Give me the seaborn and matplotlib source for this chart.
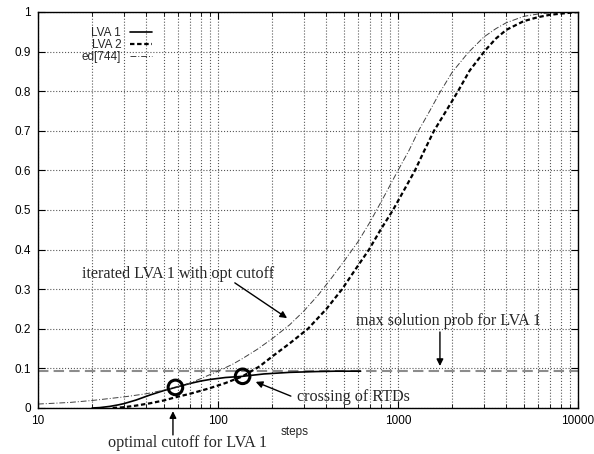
import matplotlib
matplotlib.use("Agg")
import matplotlib.pyplot as plt
import numpy as np
import pandas as pd
import seaborn as sns

# Run-time distributions (probability of having found a solution vs. steps)
lva1_steps = [20, 22, 25, 28, 30, 35, 42, 50, 58, 70, 80, 90, 110, 137, 180,
              250, 350, 450, 620]
lva1_prob = [0.0, 0.001, 0.004, 0.008, 0.011, 0.020, 0.033, 0.044, 0.052,
             0.062, 0.068, 0.072, 0.077, 0.080, 0.086, 0.090, 0.092, 0.093,
             0.093]

lva2_steps = [26, 30, 35, 42, 50, 58, 70, 90, 110, 137, 170, 200, 250, 316,
              400, 489, 580, 690, 800, 938, 1080, 1243, 1400, 1585, 1850,
              2155, 2500, 3050, 3500, 4000, 5000, 6000, 7000, 8500, 10000]
lva2_prob = [0.0, 0.002, 0.006, 0.012, 0.019, 0.027, 0.036, 0.050, 0.063,
             0.080, 0.105, 0.130, 0.163, 0.20, 0.25, 0.30, 0.35, 0.40, 0.45,
             0.50, 0.55, 0.60, 0.65, 0.70, 0.75, 0.80, 0.852, 0.903, 0.933,
             0.955, 0.977, 0.987, 0.993, 0.997, 1.0]

ed_steps = [10, 15, 20, 30, 40, 50, 58, 70, 80, 100, 120, 137, 165, 200, 250,
            300, 360, 430, 500, 600, 700, 850, 1000, 1150, 1300, 1500, 1700,
            2000, 2450, 3000, 3500, 4000, 5000, 6200, 8000, 10000]
ed_prob = [0.010, 0.014, 0.019, 0.028, 0.036, 0.045, 0.052, 0.063, 0.074,
           0.093, 0.110, 0.125, 0.148, 0.175, 0.21, 0.245, 0.285, 0.33, 0.37,
           0.42, 0.47, 0.54, 0.60, 0.65, 0.70, 0.75, 0.795, 0.848, 0.897,
           0.937, 0.958, 0.973, 0.989, 0.996, 0.999, 1.0]

max_prob_lva1 = 0.093
marked_steps = [58, 137]
marked_prob = [0.052, 0.080]

y_ticks = [0, 0.1, 0.2, 0.3, 0.4, 0.5, 0.6, 0.7, 0.8, 0.9, 1]
y_tick_labels = ["0", "0.1", "0.2", "0.3", "0.4", "0.5", "0.6", "0.7", "0.8", "0.9", "1"]
x_ticks = [10, 100, 1000, 10000]
x_tick_labels = ["10", "100", "1000", "10000"]

sns.set_theme(style="ticks")
plt.rcParams["font.family"] = ["Liberation Sans", "DejaVu Sans"]

fig = plt.figure(figsize=(5.94, 4.54), dpi=100)
ax = fig.add_axes([38 / 594, 1 - 408 / 454, 540 / 594, 396 / 454])

df1 = pd.DataFrame({"steps": lva1_steps, "p": lva1_prob})
df2 = pd.DataFrame({"steps": lva2_steps, "p": lva2_prob})
df3 = pd.DataFrame({"steps": ed_steps, "p": ed_prob})

ax.set_xscale("log")

sns.lineplot(data=df1, x="steps", y="p", ax=ax, color="black", lw=1.2,
             label="LVA 1", estimator=None, sort=False)
sns.lineplot(data=df2, x="steps", y="p", ax=ax, color="black", lw=1.6,
             label="LVA 2", estimator=None, sort=False)
ax.lines[-1].set_dashes((2.0, 1.2))
sns.lineplot(data=df3, x="steps", y="p", ax=ax, color="0.25", lw=0.7,
             label="ed[744]", estimator=None, sort=False)
ax.lines[-1].set_dashes((6, 2, 1, 2))

ax.axhline(max_prob_lva1, color="0.55", lw=1.5, dashes=(5, 2.5), zorder=1)

ax.scatter(marked_steps, marked_prob, s=110, facecolors="none",
           edgecolors="black", linewidths=2.2, zorder=5)

ax.set_xlim(10, 10000)
ax.set_ylim(0, 1)
ax.set_xticks(x_ticks)
ax.set_xticklabels(x_tick_labels)
ax.set_yticks(y_ticks)
ax.set_yticklabels(y_tick_labels)
ax.tick_params(axis="both", which="both", direction="in", top=True,
               right=True, labelsize=8.5, colors="black", pad=5)
ax.tick_params(which="major", length=5, width=0.8)
ax.tick_params(which="minor", length=3, width=0.6)

ax.grid(True, which="both", axis="x", color="0.35", ls=":", lw=0.8)
ax.grid(True, which="major", axis="y", color="0.35", ls=":", lw=0.8)
for s in ax.spines.values():
    s.set_color("black")
    s.set_linewidth(1.0)

ax.set_xlabel("steps", fontsize=8.5)
ax.set_ylabel("")
ax.xaxis.set_label_coords(0.476, -0.045)

leg = ax.legend(loc="upper right", bbox_to_anchor=(0.211, 0.963),
                frameon=False, markerfirst=False, fontsize=8.5,
                handlelength=1.9, handletextpad=0.7, labelspacing=0.0,
                borderpad=0, borderaxespad=0)

serif = ["Liberation Serif", "DejaVu Serif"]
arrow = dict(arrowstyle="-|>", color="black", lw=1.0, mutation_scale=10,
             shrinkA=0, shrinkB=0)

ax.annotate("", xy=(242, 0.227), xytext=(124, 0.316), arrowprops=arrow)
ax.text(60, 0.338, "iterated LVA 1 with opt cutoff", family=serif,
        fontsize=11.6, ha="center", va="center")

ax.annotate("", xy=(162, 0.066), xytext=(254, 0.030), arrowprops=arrow)
ax.text(275, 0.028, "crossing of RTDs", family=serif, fontsize=11.6,
        ha="left", va="center")

ax.annotate("", xy=(1710, 0.106), xytext=(1710, 0.192), arrowprops=arrow)
ax.text(1896, 0.22, "max solution prob for LVA 1", family=serif,
        fontsize=11.6, ha="center", va="center")

ax.annotate("", xy=(56.2, -0.008), xytext=(56.2, -0.068), arrowprops=arrow,
            annotation_clip=False)
ax.text(68.1, -0.088, "optimal cutoff for LVA 1", family=serif,
        fontsize=11.6, ha="center", va="center", clip_on=False)

fig.savefig("out.png", dpi=100)
